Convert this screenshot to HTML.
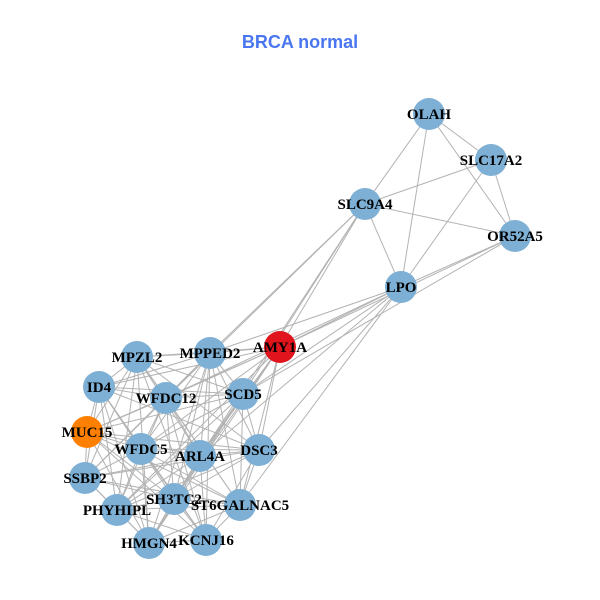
<!DOCTYPE html>
<html><head><meta charset="utf-8"><style>
html,body{margin:0;padding:0;background:#fff;width:600px;height:600px;overflow:hidden}
text{font-family:"Liberation Serif",serif;font-weight:bold;font-size:15px;fill:#000}
</style></head><body>
<svg id="s" width="600" height="600" xmlns="http://www.w3.org/2000/svg">
<text x="300" y="48" text-anchor="middle" style="font-family:'Liberation Sans',sans-serif;font-size:18px;fill:#4a76f0">BRCA normal</text>
<g id="edges" stroke="#b3b3b3" stroke-width="1"></g>
<g id="nodes"></g>
<g text-anchor="middle">
<text x="429" y="119">OLAH</text>
<text x="491" y="165">SLC17A2</text>
<text x="365" y="209">SLC9A4</text>
<text x="515" y="241">OR52A5</text>
<text x="401" y="292">LPO</text>
<text x="280" y="352">AMY1A</text>
<text x="210" y="358">MPPED2</text>
<text x="137" y="362">MPZL2</text>
<text x="99" y="392">ID4</text>
<text x="166" y="403">WFDC12</text>
<text x="243" y="399">SCD5</text>
<text x="87" y="437">MUC15</text>
<text x="141" y="454">WFDC5</text>
<text x="200" y="461">ARL4A</text>
<text x="259" y="455">DSC3</text>
<text x="85" y="483">SSBP2</text>
<text x="117" y="515">PHYHIPL</text>
<text x="174" y="504">SH3TC2</text>
<text x="240" y="510">ST6GALNAC5</text>
<text x="149" y="548">HMGN4</text>
<text x="206" y="545">KCNJ16</text>
</g>
</svg>
<script>
var N={OLAH:[429,114],SLC17A2:[491,160],SLC9A4:[365,204],OR52A5:[515,236],LPO:[401,287],AMY1A:[280,347],MPPED2:[210,353],MPZL2:[137,357],ID4:[99,387],WFDC12:[166,398],SCD5:[243,394],MUC15:[87,432],WFDC5:[141,449],ARL4A:[200,456],DSC3:[259,450],SSBP2:[85,478],PHYHIPL:[117,510],SH3TC2:[174,499],ST6GALNAC5:[240,505],HMGN4:[149,543],KCNJ16:[206,540]};
var E=[["OLAH","SLC17A2"],["OLAH","SLC9A4"],["OLAH","LPO"],["OLAH","OR52A5"],["SLC17A2","SLC9A4"],["SLC17A2","LPO"],["SLC17A2","OR52A5"],["SLC9A4","OR52A5"],["SLC9A4","LPO"],["LPO","OR52A5"],
["SLC9A4","AMY1A"],["SLC9A4","MPPED2"],["SLC9A4","SCD5"],["SLC9A4","ARL4A"],["SLC9A4","WFDC12"],
["LPO","AMY1A"],["LPO","MPPED2"],["LPO","SCD5"],["LPO","DSC3"],["LPO","ARL4A"],["LPO","WFDC12"],["LPO","ST6GALNAC5"],["OR52A5","AMY1A"],["OR52A5","SCD5"]];
var L=["AMY1A","MPPED2","MPZL2","ID4","WFDC12","SCD5","MUC15","WFDC5","ARL4A","DSC3","SSBP2","PHYHIPL","SH3TC2","ST6GALNAC5","HMGN4","KCNJ16"];
for(var i=0;i<L.length;i++)for(var j=i+1;j<L.length;j++){if((i*7+j*3)%5!=0)E.push([L[i],L[j]]);}
var ns="http://www.w3.org/2000/svg",eg=document.getElementById("edges"),ng=document.getElementById("nodes");
E.forEach(function(e){var a=N[e[0]],b=N[e[1]],l=document.createElementNS(ns,"line");l.setAttribute("x1",a[0]);l.setAttribute("y1",a[1]);l.setAttribute("x2",b[0]);l.setAttribute("y2",b[1]);eg.appendChild(l);});
for(var k in N){var c=document.createElementNS(ns,"circle");c.setAttribute("cx",N[k][0]);c.setAttribute("cy",N[k][1]);c.setAttribute("r",16);c.setAttribute("fill",k=="AMY1A"?"#e0141c":k=="MUC15"?"#ff8000":"#7eb0d5");ng.appendChild(c);}
</script>
</body></html>
